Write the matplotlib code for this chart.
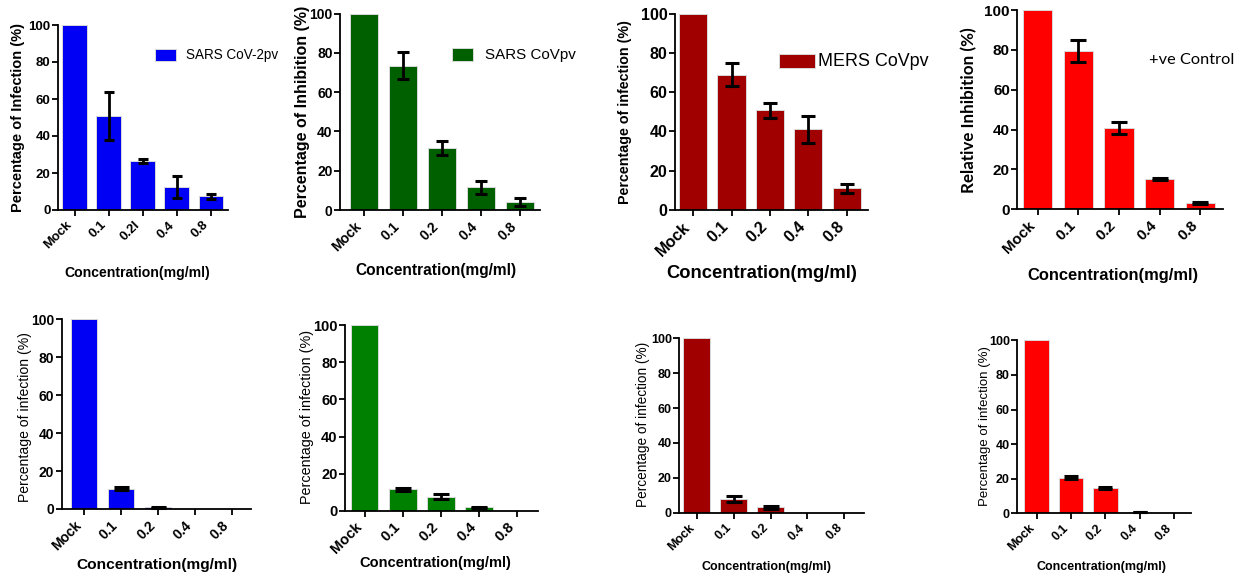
import matplotlib
matplotlib.use('Agg')
import matplotlib.pyplot as plt
from matplotlib.patches import Rectangle
import numpy as np

W, H = 1246, 578

# ---------------- data ----------------
categories = ['Mock', '0.1', '0.2', '0.4', '0.8']
categories_p1 = ['Mock', '0.1', '0.2l', '0.4', '0.8']

sars2_top = [100, 51, 26.5, 12.6, 7.4]
sars2_top_err = [0, 13, 1.0, 6.0, 1.5]
sars_top = [100, 73.5, 31.5, 11.5, 4.2]
sars_top_err = [0, 7.0, 3.5, 3.4, 2.0]
mers_top = [100, 69, 50.8, 41.2, 11.0]
mers_top_err = [0, 5.7, 3.9, 6.9, 2.1]
ctrl_top = [100, 79.4, 40.8, 15.2, 3.3]
ctrl_top_err = [0, 5.5, 3.2, 0.5, 0.5]

sars2_bot = [100, 10.8, 0.8, 0, 0]
sars2_bot_err = [0, 0.8, 0.3, 0, 0]
sars_bot = [100, 11.5, 7.6, 1.8, 0]
sars_bot_err = [0, 1.0, 1.2, 0.4, 0]
mers_bot = [100, 7.7, 3.0, 0, 0]
mers_bot_err = [0, 1.6, 0.9, 0, 0]
ctrl_bot = [100, 20.6, 14.6, 0.7, 0]
ctrl_bot_err = [0, 0.9, 0.4, 0.2, 0]

yticks = [0, 20, 40, 60, 80, 100]

# ---------------- style ----------------
BOLD = dict(family=['Liberation Sans', 'DejaVu Sans'], weight='bold')
REG = dict(family=['Liberation Sans', 'DejaVu Sans'], weight='normal')
CAL_B = dict(family=['Lato', 'DejaVu Sans'], weight='bold')
CAL_R = dict(family=['Lato', 'DejaVu Sans'], weight='normal')

panels = [
    dict(vals=sars2_top, errs=sars2_top_err, labels=categories_p1, color='#0000F5',
         box=(58, 228, 25, 210), xlim=(-0.485, 4.5), width=0.73, tick_fs=9.5, cap=3.4,
         ylabel='Percentage of Infection (%)', ylab=(18, 118, 190), ylab_font=BOLD,
         xlab=(137.5, 273, 145), xlab_font=BOLD,
         legend=('SARS CoV-2pv', (155, 176, 49, 61), (185.5, 55, 92.7), REG)),
    dict(vals=sars_top, errs=sars_top_err, labels=categories, color='#006000',
         box=(340, 540, 13.7, 210), xlim=(-0.61, 4.52), width=0.71, tick_fs=10, cap=4.6,
         ylabel='Percentage of Inhibition (%)', ylab=(302, 111.5, 213), ylab_font=BOLD,
         xlab=(435.8, 270, 161.7), xlab_font=BOLD,
         legend=('SARS CoVpv', (451.7, 473.3, 47.7, 61), (485, 55, 91), REG)),
    dict(vals=mers_top, errs=mers_top_err, labels=categories, color='#A00000',
         box=(675, 868, 13.7, 210), xlim=(-0.47, 4.55), width=0.73, tick_fs=11.5, cap=4.8,
         ylabel='Percentage of infection (%)', ylab=(625, 112, 184), ylab_font=BOLD,
         xlab=(761.7, 273, 190), xlab_font=BOLD,
         legend=('MERS CoVpv', (779, 815, 54, 68), (818.3, 61, 110), REG)),
    dict(vals=ctrl_top, errs=ctrl_top_err, labels=categories, color='#FF0000',
         box=(1017.3, 1222.7, 10, 209.3), xlim=(-0.5, 4.55), width=0.72, tick_fs=11, cap=6,
         ylabel='Relative Inhibition (%)', ylab=(969, 110.5, 165), ylab_font=CAL_B,
         xlab=(1113, 275, 171.7), xlab_font=BOLD,
         legend=('+ve Control', None, (1149.3, 60, 85.7), CAL_R)),
    dict(vals=sars2_bot, errs=sars2_bot_err, labels=categories, color='#0000F5',
         box=(61.7, 250.7, 319.3, 509), xlim=(-0.6, 4.51), width=0.72, tick_fs=10, cap=5.4,
         ylabel='Percentage of infection (%)', ylab=(25, 416.7, 170), ylab_font=REG,
         xlab=(156.7, 565, 161), xlab_font=BOLD, legend=None),
    dict(vals=sars_bot, errs=sars_bot_err, labels=categories, color='#008000',
         box=(345, 538.3, 325.3, 510.7), xlim=(-0.52, 4.56), width=0.72, tick_fs=10.5, cap=5.6,
         ylabel='Percentage of infection (%)', ylab=(306.7, 417, 174), ylab_font=REG,
         xlab=(435.8, 563.3, 151.7), xlab_font=BOLD, legend=None),
    dict(vals=mers_bot, errs=mers_bot_err, labels=categories, color='#A00000',
         box=(679.3, 864, 338.3, 512.7), xlim=(-0.47, 4.53), width=0.72, tick_fs=9, cap=6,
         ylabel='Percentage of infection (%)', ylab=(643.3, 424.7, 164), ylab_font=REG,
         xlab=(766.7, 566.7, 130), xlab_font=BOLD, legend=None),
    dict(vals=ctrl_bot, errs=ctrl_bot_err, labels=categories, color='#FF0000',
         box=(1017.3, 1190.7, 340.3, 513.3), xlim=(-0.57, 4.49), width=0.72, tick_fs=9, cap=4.8,
         ylabel='Percentage of infection (%)', ylab=(985, 426, 162), ylab_font=REG,
         xlab=(1101.7, 566.7, 130), xlab_font=BOLD, legend=None),
]

fig = plt.figure(figsize=(W / 100, H / 100), dpi=100)


def fx(x):
    return x / W


def fy(y):
    return 1 - y / H


fits = []
for p in panels:
    l, r, t, b = p['box']
    ax = fig.add_axes([fx(l), fy(b), (r - l) / W, (b - t) / H])
    x = np.arange(len(p['vals']))
    ax.bar(x, p['vals'], width=p['width'], color=p['color'],
           edgecolor='#d9d9d9', linewidth=0.7, zorder=2)
    errs = np.array(p['errs'], dtype=float)
    m = errs > 0
    vals = np.array(p['vals'], dtype=float)
    ax.errorbar(x[m], vals[m], yerr=errs[m], fmt='none', ecolor='black',
                elinewidth=2.0, capsize=p['cap'], capthick=2.2, zorder=3, clip_on=False)
    ax.set_xlim(*p['xlim'])
    ax.set_ylim(0, 100)
    ax.set_yticks(yticks)
    ax.set_xticks(x)
    ax.set_xticklabels(p['labels'], rotation=45, ha='right', fontsize=p['tick_fs'], **BOLD)
    ax.set_yticklabels([str(v) for v in yticks], fontsize=p['tick_fs'], **BOLD)
    for s in ['top', 'right']:
        ax.spines[s].set_visible(False)
    for s in ['left', 'bottom']:
        ax.spines[s].set_linewidth(1.3)
    ax.tick_params(axis='both', direction='out', length=4.5, width=1.3, color='black')
    ax.tick_params(axis='y', pad=0.8)
    ax.tick_params(axis='x', pad=2)
    ax.patch.set_alpha(0)

    ylx, yly, yll = p['ylab']
    yl = ax.set_ylabel(p['ylabel'], fontsize=10, va='center', ha='center', **p['ylab_font'])
    ax.yaxis.set_label_coords(fx(ylx), fy(yly), transform=fig.transFigure)
    fits.append((yl, yll, 'h'))

    xlx, xly, xll = p['xlab']
    xl = ax.set_xlabel('Concentration(mg/ml)', fontsize=10, va='center', ha='center', **p['xlab_font'])
    ax.xaxis.set_label_coords(fx(xlx), fy(xly), transform=fig.transFigure)
    fits.append((xl, xll, 'w'))

    if p['legend'] is not None:
        txt, rect, (tx, ty, tw), font = p['legend']
        if rect is not None:
            rl, rr, rt, rb = rect
            fig.add_artist(Rectangle((fx(rl), fy(rb)), (rr - rl) / W, (rb - rt) / H,
                                     transform=fig.transFigure, facecolor=p['color'],
                                     edgecolor='#d9d9d9', linewidth=0.7))
        lt = fig.text(fx(tx), fy(ty), txt, ha='left', va='center', fontsize=10, **font)
        fits.append((lt, tw, 'w'))

fig.canvas.draw()
renderer = fig.canvas.get_renderer()
for _ in range(3):
    for t, target, dim in fits:
        bb = t.get_window_extent(renderer)
        cur = bb.width if dim == 'w' else bb.height
        if cur > 0:
            t.set_fontsize(t.get_fontsize() * target / cur)
    fig.canvas.draw()

fig.savefig('out.png', dpi=100)
